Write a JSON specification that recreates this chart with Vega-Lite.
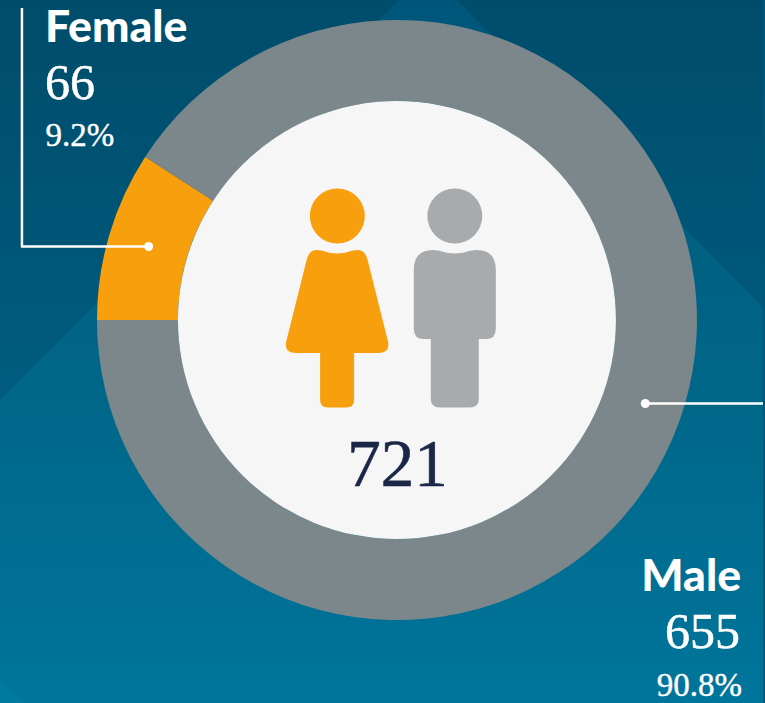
{
"$schema":"https://vega.github.io/schema/vega-lite/v6.json",
"width":765,"height":703,"padding":0,
"autosize":{"type":"fit","contains":"padding"},
"background":"#00567a",
"config":{"view":{"stroke":null},"axis":{"disable":true}},
"data":{"values":[{"gender":"Female","count":66,"pct":"9.2%","ord":1},{"gender":"Male","count":655,"pct":"90.8%","ord":2}]},
"layer":[
{"mark":{"type":"rect","color":{"gradient":"linear","x1":0,"y1":0,"x2":0,"y2":1,"stops":[{"offset":0,"color":"#004c6b"},{"offset":0.6,"color":"#005d80"},{"offset":1,"color":"#006a8e"}]}},
 "encoding":{"x":{"datum":0,"scale":{"domain":[0,765],"nice":false,"zero":false},"axis":null},"x2":{"datum":765},"y":{"datum":0,"scale":{"domain":[703,0],"nice":false,"zero":false},"axis":null},"y2":{"datum":703}}},
{"data":{"values":[{"px":0,"py":400},{"px":400,"py":0},{"px":458,"py":0},{"px":765,"py":307}]},
 "mark":{"type":"area","orient":"vertical","color":{"gradient":"linear","x1":0,"y1":0,"x2":0,"y2":1,"stops":[{"offset":0,"color":"#00567a"},{"offset":0.5,"color":"#006586"},{"offset":1,"color":"#00759b"}]}},
 "encoding":{"x":{"field":"px","type":"quantitative","axis":null},"y":{"field":"py","type":"quantitative","axis":null},"y2":{"datum":703}}},
{"data":{"values":[{"px":0,"py":680},{"px":25,"py":703}]},
 "mark":{"type":"area","orient":"vertical","color":"#007aa0"},
 "encoding":{"x":{"field":"px","type":"quantitative","axis":null},"y":{"field":"py","type":"quantitative","axis":null},"y2":{"datum":703}}},
{"mark":{"type":"arc","radius":300,"radius2":219},
 "encoding":{"x":{"datum":398,"axis":null},"y":{"datum":320,"axis":null},
  "theta":{"field":"count","type":"quantitative","stack":true,"scale":{"range":[4.71239,10.99557]}},
  "order":{"field":"ord","type":"quantitative"},
  "color":{"field":"gender","type":"nominal","legend":null,"scale":{"domain":["Female","Male"],"range":["#f79f0c","#7c878b"]}}}},
{"data":{"values":[{"part":"disc"}]},"mark":{"type":"point","shape":"circle","filled":true,"opacity":1,"color":"#f6f6f6","size":191844},
 "encoding":{"x":{"datum":398},"y":{"datum":320}}},
{"data":{"values":[{"part":"head"}]},"mark":{"type":"point","shape":"circle","filled":true,"opacity":1,"color":"#f79f0c","size":3025},
 "encoding":{"x":{"datum":338.2},"y":{"datum":216}}},
{"data":{"values":[{"part":"head"}]},"mark":{"type":"point","shape":"circle","filled":true,"opacity":1,"color":"#a7abae","size":3025},
 "encoding":{"x":{"datum":456},"y":{"datum":216}}},
{"data":{"values":[{"part":"body"}]},"mark":{"type":"point","filled":true,"opacity":1,"color":"#f79f0c","size":4,"shape":"M -21 -70 C -14 -70 -9 -66.5 0 -66.5 C 9 -66.5 14 -70 21 -70 Q 28 -70 30.5 -60 L 51 22 Q 53 33 41 33 L 17 33 L 17 80 Q 17 87.5 9 87.5 L -9 87.5 Q -17 87.5 -17 80 L -17 33 L -41 33 Q -53 33 -51 22 L -30.5 -60 Q -28 -70 -21 -70 Z"},
 "encoding":{"x":{"datum":338},"y":{"datum":320}}},
{"data":{"values":[{"part":"body"}]},"mark":{"type":"point","filled":true,"opacity":1,"color":"#a7abae","size":4,"shape":"M -22 -70 C -15 -70 -9 -66.5 0 -66.5 C 9 -66.5 15 -70 22 -70 Q 41 -70 41 -50 L 41 9 Q 41 19 31 19 L 24 19 L 24 79 Q 24 87.5 15 87.5 L -15 87.5 Q -24 87.5 -24 79 L -24 19 L -31 19 Q -41 19 -41 9 L -41 -50 Q -41 -70 -22 -70 Z"},
 "encoding":{"x":{"datum":456},"y":{"datum":320}}},
{"data":{"values":[{"part":"a"}]},"mark":{"type":"rule","color":"#ffffff","strokeWidth":2.5},"encoding":{"x":{"datum":22},"y":{"datum":8},"y2":{"datum":246.5}}},
{"data":{"values":[{"part":"a"}]},"mark":{"type":"rule","color":"#ffffff","strokeWidth":2.5},"encoding":{"x":{"datum":21},"x2":{"datum":148},"y":{"datum":246.5}}},
{"data":{"values":[{"part":"a"}]},"mark":{"type":"rule","color":"#ffffff","strokeWidth":2.5},"encoding":{"x":{"datum":647},"x2":{"datum":765},"y":{"datum":403.5}}},
{"data":{"values":[{"part":"a"}]},"mark":{"type":"point","shape":"circle","filled":true,"opacity":1,"color":"#ffffff","size":81},"encoding":{"x":{"datum":149},"y":{"datum":246.5}}},
{"data":{"values":[{"part":"a"}]},"mark":{"type":"point","shape":"circle","filled":true,"opacity":1,"color":"#ffffff","size":81},"encoding":{"x":{"datum":647},"y":{"datum":403.5}}},
{"data":{"values":[{"total":721}]},"mark":{"type":"text","font":"Liberation Serif","fontSize":67,"color":"#1a2747","stroke":"#1a2747","strokeWidth":0.6,"align":"center","baseline":"alphabetic"},"encoding":{"text":{"field":"total","type":"quantitative"},"x":{"datum":398.5},"y":{"datum":486}}},
{"transform":[{"filter":"datum.gender==='Female'"}],"mark":{"type":"text","font":"Lato","fontWeight":900,"fontSize":44.5,"color":"#ffffff","align":"left","baseline":"alphabetic"},"encoding":{"text":{"field":"gender"},"x":{"datum":45},"y":{"datum":42}}},
{"transform":[{"filter":"datum.gender==='Female'"}],"mark":{"type":"text","font":"Liberation Serif","fontSize":50,"color":"#ffffff","stroke":"#ffffff","strokeWidth":0.5,"align":"left","baseline":"alphabetic"},"encoding":{"text":{"field":"count","type":"quantitative"},"x":{"datum":45},"y":{"datum":99}}},
{"transform":[{"filter":"datum.gender==='Female'"}],"mark":{"type":"text","font":"Liberation Serif","fontSize":33,"color":"#ffffff","stroke":"#ffffff","strokeWidth":0.4,"align":"left","baseline":"alphabetic"},"encoding":{"text":{"field":"pct"},"x":{"datum":45.5},"y":{"datum":146}}},
{"transform":[{"filter":"datum.gender==='Male'"}],"mark":{"type":"text","font":"Lato","fontWeight":900,"fontSize":44.5,"color":"#ffffff","align":"right","baseline":"alphabetic"},"encoding":{"text":{"field":"gender"},"x":{"datum":743},"y":{"datum":591}}},
{"transform":[{"filter":"datum.gender==='Male'"}],"mark":{"type":"text","font":"Liberation Serif","fontSize":50,"color":"#ffffff","stroke":"#ffffff","strokeWidth":0.5,"align":"right","baseline":"alphabetic"},"encoding":{"text":{"field":"count","type":"quantitative"},"x":{"datum":742},"y":{"datum":648}}},
{"transform":[{"filter":"datum.gender==='Male'"}],"mark":{"type":"text","font":"Liberation Serif","fontSize":33,"color":"#ffffff","stroke":"#ffffff","strokeWidth":0.4,"align":"right","baseline":"alphabetic"},"encoding":{"text":{"field":"pct"},"x":{"datum":744},"y":{"datum":696}}}
]
}
